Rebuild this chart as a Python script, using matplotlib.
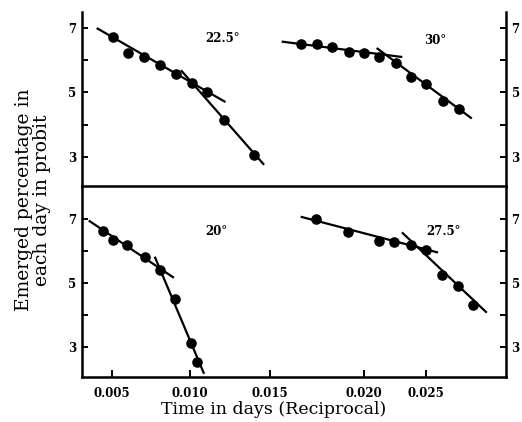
import numpy as np
import matplotlib
matplotlib.use("Agg")
import matplotlib.pyplot as plt
from matplotlib.ticker import FixedLocator, NullFormatter

# ---------------- data ----------------
x_ticks = [0.005, 0.010, 0.015, 0.020, 0.025]
x_tick_labels = ["0.005", "0.010", "0.015", "0.020", "0.025"]
y_ticks = [3, 5, 7]

# 22.5 deg
t225_x = [0.00504, 0.00603, 0.00707, 0.00808, 0.00908, 0.01011, 0.01106, 0.01212, 0.01400]
t225_y = [6.71, 6.23, 6.10, 5.85, 5.58, 5.29, 5.00, 4.13, 3.06]
t225_fit1_x = [0.00402, 0.01222]
t225_fit1_y = [7.00, 4.70]
t225_fit2_x = [0.00942, 0.01463]
t225_fit2_y = [5.69, 2.75]

# 30 deg
t30_x = [0.01666, 0.01750, 0.01831, 0.01922, 0.02002, 0.02123, 0.02258, 0.02379, 0.02502, 0.02635, 0.02766]
t30_y = [6.51, 6.51, 6.40, 6.27, 6.24, 6.10, 5.92, 5.49, 5.26, 4.73, 4.49]
t30_fit1_x = [0.01562, 0.02309]
t30_fit1_y = [6.58, 6.10]
t30_fit2_x = [0.02102, 0.02869]
t30_fit2_y = [6.38, 4.19]

# 20 deg
t20_x = [0.00444, 0.00504, 0.00598, 0.00710, 0.00806, 0.00904, 0.01006, 0.01046]
t20_y = [6.62, 6.33, 6.19, 5.82, 5.40, 4.49, 3.12, 2.53]
t20_fit1_x = [0.00351, 0.00897]
t20_fit1_y = [6.95, 5.16]
t20_fit2_x = [0.00774, 0.01088]
t20_fit2_y = [5.82, 2.16]

# 27.5 deg
t275_x = [0.01746, 0.01913, 0.02121, 0.02244, 0.02381, 0.02500, 0.02631, 0.02755, 0.02881]
t275_y = [6.99, 6.60, 6.30, 6.28, 6.18, 6.03, 5.25, 4.91, 4.30]
t275_fit1_x = [0.01663, 0.02597]
t275_fit1_y = [7.07, 5.95]
t275_fit2_x = [0.02306, 0.02990]
t275_fit2_y = [6.58, 4.07]

# ---------------- hand-drawn (uneven) x scale of the original ----------------
scale_vals = np.array([0.0, 0.005, 0.010, 0.015, 0.020, 0.025, 0.035])
scale_pos = np.array([34.0, 112.0, 190.0, 270.0, 364.0, 426.0, 550.0])

def fwd(v):
    return np.interp(v, scale_vals, scale_pos)

def inv(p):
    return np.interp(p, scale_pos, scale_vals)

SERIF = "DejaVu Serif"
plt.rcParams["font.family"] = SERIF

fig = plt.figure(figsize=(5.22, 4.22), dpi=100)
L, W = 82 / 522, 424 / 522
ax_top = fig.add_axes([L, 1 - 187 / 422, W, 175 / 422])
ax_bot = fig.add_axes([L, 1 - 377 / 422, W, 191 / 422])

ms = 6.6
lw = 1.6
for ax in (ax_top, ax_bot):
    ax.set_xscale("function", functions=(fwd, inv))
    ax.set_xlim(0.003077, 0.03145)
    for s in ax.spines.values():
        s.set_linewidth(1.8)
    ax.yaxis.set_major_locator(FixedLocator(y_ticks))
    ax.yaxis.set_minor_locator(FixedLocator([4, 6]))
    ax.yaxis.set_minor_formatter(NullFormatter())
    ax.tick_params(axis="y", which="both", direction="in", length=4, width=1.4,
                   left=True, right=True, labelleft=True, labelright=True,
                   labelsize=8.5, pad=4)
    for lab in ax.get_yticklabels():
        lab.set_fontweight("bold")

ax_top.set_ylim(2.06, 7.5)
ax_bot.set_ylim(2.06, 8.03)

ax_top.spines["top"].set_visible(False)
ax_top.spines["bottom"].set_visible(False)
ax_top.tick_params(axis="x", which="both", bottom=False, labelbottom=False)

ax_bot.set_xticks(x_ticks)
ax_bot.set_xticklabels(x_tick_labels, fontweight="bold", fontsize=8.5)
ax_bot.xaxis.set_minor_locator(FixedLocator([]))
ax_bot.tick_params(axis="x", which="major", direction="in", length=5, width=1.4, pad=7)
for lab in ax_top.get_yticklabels() + ax_bot.get_yticklabels():
    lab.set_fontweight("bold")

def panel(ax, x, y, f1x, f1y, f2x, f2y):
    ax.plot(f1x, f1y, color="black", lw=lw, solid_capstyle="butt")
    ax.plot(f2x, f2y, color="black", lw=lw, solid_capstyle="butt")
    ax.plot(x, y, "o", color="black", ms=ms, mec="black")

panel(ax_top, t225_x, t225_y, t225_fit1_x, t225_fit1_y, t225_fit2_x, t225_fit2_y)
panel(ax_top, t30_x, t30_y, t30_fit1_x, t30_fit1_y, t30_fit2_x, t30_fit2_y)
panel(ax_bot, t20_x, t20_y, t20_fit1_x, t20_fit1_y, t20_fit2_x, t20_fit2_y)
panel(ax_bot, t275_x, t275_y, t275_fit1_x, t275_fit1_y, t275_fit2_x, t275_fit2_y)

tk = dict(fontsize=8.5, fontweight="bold", ha="center", va="center")
ax_top.text(0.01200, 6.69, "22.5°", **tk)
ax_top.text(0.02573, 6.62, "30°", **tk)
ax_bot.text(0.01167, 6.60, "20°", **tk)
ax_bot.text(0.02640, 6.62, "27.5°", **tk)

fig.text(33 / 522, 1 - 200 / 422, "Emerged percentage in\neach day in probit",
         rotation=90, ha="center", va="center", fontsize=13.5,
         linespacing=1.05)
fig.text(274 / 522, 1 - 409 / 422, "Time in days (Reciprocal)",
         ha="center", va="center", fontsize=12.5)

fig.savefig("out.png", dpi=100)
